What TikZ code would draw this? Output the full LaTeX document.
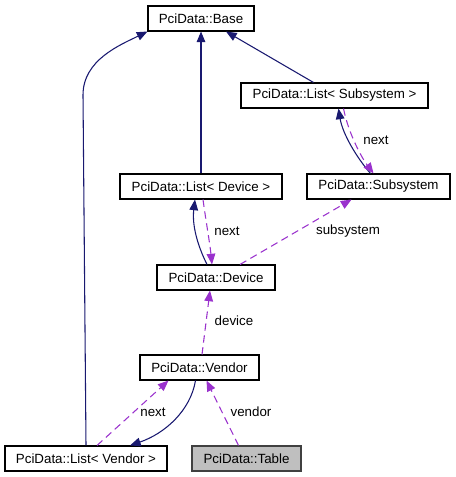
\documentclass[tikz,border=0pt]{standalone}
\usepackage{fontspec}
\setmainfont{Liberation Sans}
\usetikzlibrary{arrows.meta, calc}
\definecolor{cnavy}{HTML}{191970}
\definecolor{cpurple}{HTML}{9A32CD}
\definecolor{cgrey}{HTML}{BFBFBF}
\definecolor{cdark}{HTML}{404040}
\tikzset{
  every picture/.style={font=\fontsize{10}{12}\selectfont},
  cls/.style={draw=black, fill=white, line width=0.8pt, inner sep=0pt, minimum height=18.75pt, minimum width=#1},
  inh/.style={-{Triangle[length=8pt, width=6.5pt]}, draw=cnavy, line width=0.8pt},
  usage/.style={-{Triangle[length=8pt, width=6.5pt]}, draw=cpurple, line width=0.8pt, dash pattern=on 5.5pt off 3.5pt},
  lab/.style={font=\fontsize{10}{12}\selectfont, inner sep=0pt},
}

\begin{document}
\begin{tikzpicture}[x=0.75pt, y=-0.75pt]
  \useasboundingbox (0,0) rectangle (455,477);
  % classes
  \node[cls=79.5pt] (base) at (201,18.5) {PciData::Base};
  \node[cls=140.25pt] (lsub) at (334.5,95.5) {PciData::List< Subsystem >};
  \node[cls=121.5pt] (ldev) at (201,186.5) {PciData::List< Device >};
  \node[cls=107.25pt] (subsys) at (378.5,186.5) {PciData::Subsystem};
  \node[cls=88.5pt] (device) at (216,277.5) {PciData::Device};
  \node[cls=89.25pt] (vendor) at (199.5,367.5) {PciData::Vendor};
  \node[cls=121.5pt] (lvendor) at (86,458.5) {PciData::List< Vendor >};
  \node[cls=81.75pt, fill=cgrey, draw=cdark] (table) at (246.5,458.5) {PciData::Table};

  % inheritance
  \draw[inh] (lvendor.north) -- (83,95) .. controls (83,60) and (120,45) .. (base.south west);
  \draw[inh] (ldev) -- (base);
  \draw[inh] ($(lsub.north)+(-21,0)$) -- ($(base.south)+(25,0)$);
  \draw[inh] ($(subsys.north)+(-8,0)$) .. controls +(-14,-16) and +(4,25) .. ($(lsub.south)+(4,0)$);
  \draw[inh] ($(device.north)+(-9,0)$) .. controls +(-10,-20) and +(-3,25) .. ($(ldev.south)+(-6,0)$);
  \draw[inh] ($(vendor.south)+(-4,0)$) .. controls +(-5,30) and +(35,-12) .. ($(lvendor.north)+(44,0)$);

  % usage
  \draw[usage] ($(lsub.south)+(9,0)$) .. controls +(5,25) and +(-12,-16) .. ($(subsys.north)+(-5,0)$);
  \draw[usage] ($(ldev.south)+(2,0)$) .. controls +(3,22) and +(-2,-20) .. ($(device.north)+(-4,0)$);
  \draw[usage] ($(device.north)+(24,0)$) -- ($(subsys.south)+(-27,0)$);
  \draw[usage] ($(vendor.north)+(2.5,0)$) -- ($(device.south)+(-6,0)$);
  \draw[usage] ($(lvendor.north)+(11,0)$) -- ($(vendor.south)+(-31,0)$);
  \draw[usage] ($(table.north)+(-8,0)$) -- ($(vendor.south)+(7,0)$);

  % labels
  \node[lab] (nextsub) at (376,140) {next};
  \node[lab] (nextdev) at (227,231) {next};
  \node[lab] (subsyslab) at (348,231) {subsystem};
  \node[lab] (devlab) at (234,321) {device};
  \node[lab] (nextvend) at (153,412) {next};
  \node[lab] (vendlab) at (251,412) {vendor};
\end{tikzpicture}
\end{document}
